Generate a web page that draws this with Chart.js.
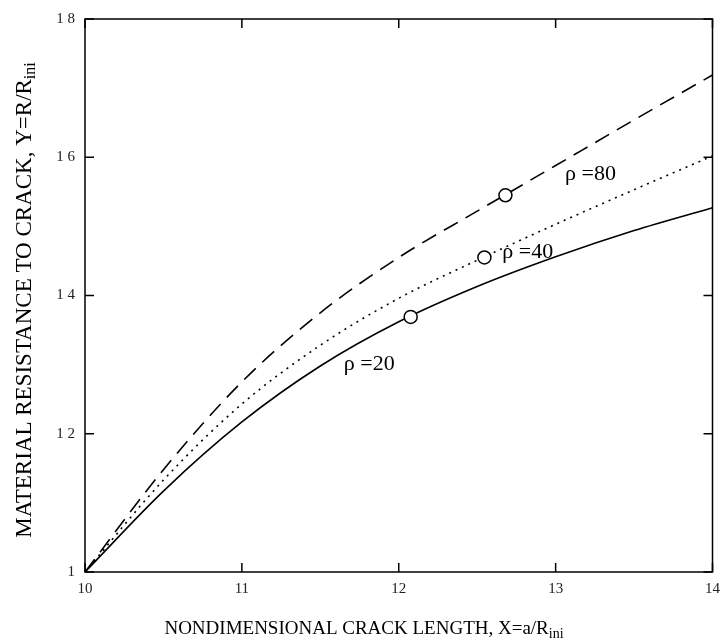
<!DOCTYPE html>
<html>
<head>
<meta charset="utf-8">
<script src="https://cdn.jsdelivr.net/npm/chart.js@4.4.1/dist/chart.umd.min.js"></script>
<style>
  body { margin: 0; background: #fff; }
  #wrap { width: 728px; height: 639px; }
</style>
</head>
<body>
<div id="wrap"><canvas id="grafico" width="728" height="639"></canvas></div>
<script>
// valores
const xValues = [1.0, 1.05, 1.1, 1.15, 1.2, 1.25, 1.3, 1.35, 1.4];
const rho20 = [1.0, 1.117, 1.217, 1.298, 1.362, 1.413, 1.456, 1.494, 1.527];
const rho40 = [1.0, 1.133, 1.243, 1.328, 1.396, 1.451, 1.503, 1.553, 1.602];
const rho80 = [1.0, 1.148, 1.275, 1.375, 1.455, 1.522, 1.588, 1.654, 1.719];

const markerX = [1.2076, 1.2546, 1.268];
const markerY = [1.369, 1.455, 1.545];

const curveLabels = ["ρ =20", "ρ =40", "ρ =80"];
const labelX = [1.165, 1.266, 1.306];
const labelY = [1.300, 1.463, 1.576];

const xTickLabels = ["10", "11", "12", "13", "14"];
const yTickLabels = ["1", "1 2", "1 4", "1 6", "1 8"];

const serif = "'Liberation Serif', 'DejaVu Serif', serif";

function pontos(ys) {
  return xValues.map((x, i) => ({ x: x, y: ys[i] }));
}

// moldura, ticks para dentro, titulos com subscrito e rotulos das curvas
const extras = {
  id: "extras",
  afterDraw(chart) {
    const ctx = chart.ctx;
    const a = chart.chartArea;
    const sx = chart.scales.x, sy = chart.scales.y;
    ctx.save();
    ctx.strokeStyle = "#000";
    ctx.lineWidth = 1.5;
    ctx.strokeRect(a.left, a.top, a.right - a.left, a.bottom - a.top);
    const t = 9;
    ctx.beginPath();
    sx.ticks.forEach(tk => {
      const px = sx.getPixelForValue(tk.value);
      ctx.moveTo(px, a.bottom); ctx.lineTo(px, a.bottom - t);
      ctx.moveTo(px, a.top); ctx.lineTo(px, a.top + t);
    });
    sy.ticks.forEach(tk => {
      const py = sy.getPixelForValue(tk.value);
      ctx.moveTo(a.left, py); ctx.lineTo(a.left + t, py);
      ctx.moveTo(a.right, py); ctx.lineTo(a.right - t, py);
    });
    ctx.stroke();

    // rotulos das curvas
    ctx.fillStyle = "#000";
    ctx.font = "22px " + serif;
    ctx.textBaseline = "middle";
    ctx.textAlign = "left";
    curveLabels.forEach((txt, i) => {
      ctx.fillText(txt, sx.getPixelForValue(labelX[i]), sy.getPixelForValue(labelY[i]));
    });

    // titulo do eixo x
    const tituloX = "NONDIMENSIONAL CRACK LENGTH, X=a/R";
    ctx.font = "19px " + serif;
    const w1 = ctx.measureText(tituloX).width;
    ctx.font = "14px " + serif;
    const w2 = ctx.measureText("ini").width;
    let x0 = 364 - (w1 + w2) / 2;
    ctx.textBaseline = "alphabetic";
    ctx.font = "19px " + serif;
    ctx.fillText(tituloX, x0, 634);
    ctx.font = "14px " + serif;
    ctx.fillText("ini", x0 + w1, 638);

    // titulo do eixo y
    const tituloY = "MATERIAL RESISTANCE TO CRACK, Y=R/R";
    ctx.translate(31, 300);
    ctx.rotate(-Math.PI / 2);
    ctx.font = "23px " + serif;
    const h1 = ctx.measureText(tituloY).width;
    ctx.font = "16px " + serif;
    const h2 = ctx.measureText("ini").width;
    const y0 = -(h1 + h2) / 2;
    ctx.font = "23px " + serif;
    ctx.fillText(tituloY, y0, 0);
    ctx.font = "16px " + serif;
    ctx.fillText("ini", y0 + h1, 4);
    ctx.restore();
  }
};

new Chart(document.getElementById("grafico").getContext("2d"), {
  type: "scatter",
  data: {
    datasets: [
      {
        label: "marcadores",
        data: markerX.map((x, i) => ({ x: x, y: markerY[i] })),
        showLine: false,
        pointRadius: 6.5,
        pointBackgroundColor: "#fff",
        pointBorderColor: "#000",
        pointBorderWidth: 1.5
      },
      {
        label: "rho 20",
        data: pontos(rho20),
        showLine: true,
        borderColor: "#000",
        borderWidth: 1.6,
        pointRadius: 0,
        cubicInterpolationMode: "monotone"
      },
      {
        label: "rho 40",
        data: pontos(rho40),
        showLine: true,
        borderColor: "#000",
        borderWidth: 1.6,
        borderDash: [2, 5],
        pointRadius: 0,
        cubicInterpolationMode: "monotone"
      },
      {
        label: "rho 80",
        data: pontos(rho80),
        showLine: true,
        borderColor: "#000",
        borderWidth: 1.6,
        borderDash: [16, 9],
        pointRadius: 0,
        cubicInterpolationMode: "monotone"
      }
    ]
  },
  options: {
    responsive: false,
    animation: false,
    layout: { padding: { left: 0, right: 13, top: 14, bottom: 0 } },
    plugins: { legend: { display: false }, tooltip: { enabled: false } },
    scales: {
      x: {
        type: "linear",
        min: 1.0,
        max: 1.4,
        grid: { display: false, drawTicks: false },
        border: { display: false },
        ticks: {
          stepSize: 0.1,
          padding: 8,
          color: "#222",
          font: { family: serif, size: 15 },
          callback: (v, i) => xTickLabels[i]
        },
        afterFit: s => { s.height = 67; }
      },
      y: {
        min: 1.0,
        max: 1.8,
        grid: { display: false, drawTicks: false },
        border: { display: false },
        ticks: {
          stepSize: 0.2,
          padding: 10,
          color: "#222",
          font: { family: serif, size: 15 },
          callback: (v, i) => yTickLabels[i]
        },
        afterFit: s => { s.width = 85; }
      }
    }
  },
  plugins: [extras]
});
</script>
</body>
</html>
